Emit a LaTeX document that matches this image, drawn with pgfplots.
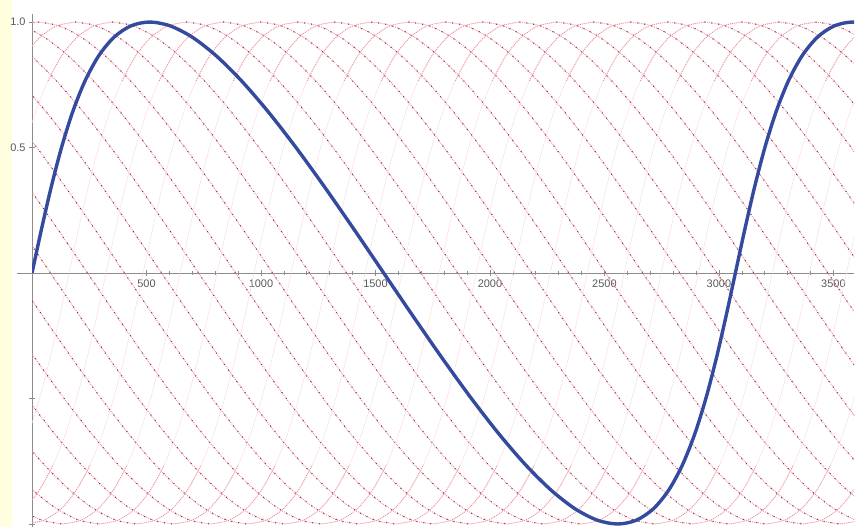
\documentclass[border=0pt]{standalone}
\usepackage{fontspec}
\setmainfont{Liberation Sans}
\usepackage{pgfplots}
\usepackage{pgfplotstable}
\pgfplotsset{compat=1.18}
\definecolor{bluec}{RGB}{52,74,158}
\definecolor{pinkl}{RGB}{236,134,150}
\definecolor{pinkf}{RGB}{249,216,221}
\definecolor{dotc}{RGB}{140,55,80}
\definecolor{bgyel}{RGB}{255,255,224}
\definecolor{axgray}{RGB}{140,140,140}

% descending half of one red curve (phase 90..270 deg)
\pgfplotstableread{
x y
513.74 1
602.93 0.98481
699.72 0.93969
803.78 0.86603
914.53 0.76604
1031.19 0.64279
1152.82 0.5
1278.32 0.34202
1406.45 0.17365
1535.92 0
1665.40 -0.17365
1793.53 -0.34202
1919.03 -0.5
2040.65 -0.64279
2157.32 -0.76604
2268.07 -0.86603
2372.12 -0.93969
2468.92 -0.98481
2558.08 -1
}\desc

% ascending half (phase -90..90 deg)
\pgfplotstableread{
x y
-513.74 -1
-432.27 -0.98481
-358.41 -0.93969
-291.80 -0.86603
-231.89 -0.76604
-177.90 -0.64279
-128.87 -0.5
-83.71 -0.34202
-41.18 -0.17365
0 0
41.18 0.17365
83.71 0.34202
128.87 0.5
177.90 0.64279
231.89 0.76604
291.80 0.86603
358.41 0.93969
432.27 0.98481
513.74 1
}\asc

% ends of the ascending half, near the crests and troughs
\pgfplotstableread{
x y
231.89 0.76604
291.80 0.86603
358.41 0.93969
432.27 0.98481
513.74 1
}\asctop
\pgfplotstableread{
x y
-513.74 -1
-432.27 -0.98481
-358.41 -0.93969
-291.80 -0.86603
-231.89 -0.76604
}\ascbot

% blue curve
\pgfplotstableread{
x y
0 0
41.18 0.17365
83.71 0.34202
128.87 0.5
177.90 0.64279
231.89 0.76604
291.80 0.86603
358.41 0.93969
432.27 0.98481
513.74 1
602.93 0.98481
699.72 0.93969
803.78 0.86603
914.53 0.76604
1031.19 0.64279
1152.82 0.5
1278.32 0.34202
1406.45 0.17365
1535.92 0
1665.40 -0.17365
1793.53 -0.34202
1919.03 -0.5
2040.65 -0.64279
2157.32 -0.76604
2268.07 -0.86603
2372.12 -0.93969
2468.92 -0.98481
2558.08 -1
2639.58 -0.98481
2713.44 -0.93969
2780.05 -0.86603
2839.95 -0.76604
2893.95 -0.64279
2942.98 -0.5
2988.14 -0.34202
3030.67 -0.17365
3071.85 0
3113.03 0.17365
3155.56 0.34202
3200.72 0.5
3249.75 0.64279
3303.75 0.76604
3363.65 0.86603
3430.26 0.93969
3504.12 0.98481
3585.59 1
3674.78 0.98481
}\bluetab

\begin{document}
\begin{tikzpicture}
\useasboundingbox (0bp,0bp) rectangle (855bp,527bp);
\fill[bgyel] (0bp,0bp) rectangle (12bp,527bp);
\begin{axis}[
  at={(32bp,0bp)}, anchor=south west,
  scale only axis, width=822bp, height=512.5bp,
  xmin=0, xmax=3590, ymin=-1.012, ymax=1.03,
  axis lines=middle,
  axis line style={axgray, line width=0.7bp, -},
  x axis line style={shorten <=-15bp},
  xtick={500,1000,...,3500},
  minor x tick num=4,
  ytick={-1,-0.5,0.5,1},
  yticklabels={{},{},0.5,1.0},
  minor y tick num=4,
  tick style={axgray, line width=0.6bp},
  major tick length=6bp, minor tick length=3.5bp,
  ticklabel style={font=\fontsize{11}{13}\selectfont, text=black!65},
  /pgf/number format/assume math mode=true,
  /pgf/number format/1000 sep={},
  redline/.style={pinkl, line width=1bp, dash pattern=on 0.8bp off 1.2bp, smooth, no markers},
  reddots/.style={dotc, line width=1.5bp, line cap=round, dash pattern=on 0bp off 7bp, smooth, no markers},
  ascline/.style={pinkf, line width=0.45bp, smooth, no markers},
  ascend/.style={pinkl, line width=0.9bp, dash pattern=on 0.8bp off 1.2bp, smooth, no markers},
]
\pgfplotsinvokeforeach{-16,...,26}{
  \addplot[ascline] table[x expr=\thisrow{x}+#1*161.676, y=y]{\asc};
  \addplot[ascend] table[x expr=\thisrow{x}+#1*161.676, y=y]{\asctop};
  \addplot[ascend] table[x expr=\thisrow{x}+#1*161.676, y=y]{\ascbot};
  \addplot[redline] table[x expr=\thisrow{x}+#1*161.676, y=y]{\desc};
  \addplot[reddots] table[x expr=\thisrow{x}+#1*161.676, y=y]{\desc};
}
\addplot[bluec, line width=3.4bp, smooth, no markers] table[x=x, y=y]{\bluetab};
\end{axis}
\end{tikzpicture}
\end{document}
